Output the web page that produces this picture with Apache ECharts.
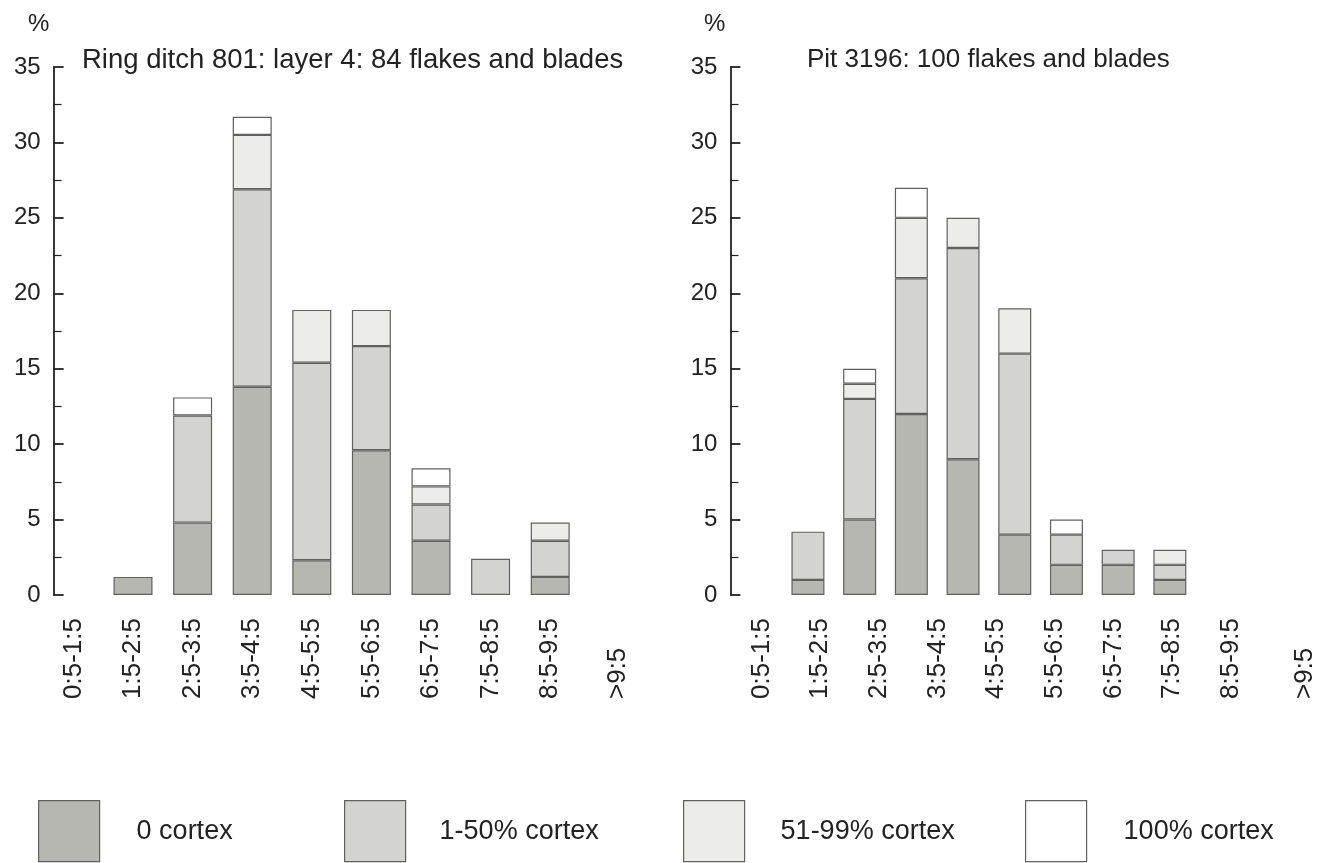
<!DOCTYPE html>
<html><head><meta charset="utf-8">
<script src="https://cdn.jsdelivr.net/npm/echarts@6/dist/echarts.min.js"></script>
<style>html,body{margin:0;padding:0;background:#fff}#c{width:1319px;height:863px}</style>
</head><body><div id="c"></div>
<script>
const categories = ['0:5-1:5','1:5-2:5','2:5-3:5','3:5-4:5','4:5-5:5','5:5-6:5','6:5-7:5','7:5-8:5','8:5-9:5','>9:5'];
const seriesNames = ['0 cortex','1-50% cortex','51-99% cortex','100% cortex'];
const yTicks = [0,5,10,15,20,25,30,35];
// Ring ditch 801, layer 4 (% per class, stacked segments)
const ringNone   = [0, 1.2, 4.8, 13.8, 2.3, 9.6, 3.6, 0,   1.2, 0];
const ringLow    = [0, 0,   7.1, 13.1, 13.1, 6.9, 2.4, 2.4, 2.4, 0];
const ringHigh   = [0, 0,   0,   3.6,  3.5,  2.4, 1.2, 0,   1.2, 0];
const ringFull   = [0, 0,   1.2, 1.2,  0,    0,   1.2, 0,   0,   0];
// Pit 3196
const pitNone    = [0, 1,   5,  12, 9,  4,  2, 2, 1, 0];
const pitLow     = [0, 3.2, 8,  9,  14, 12, 2, 1, 1, 0];
const pitHigh    = [0, 0,   1,  4,  2,  3,  0, 0, 1, 0];
const pitFull    = [0, 0,   1,  2,  0,  0,  1, 0, 0, 0];

const FONT = "'Liberation Sans', Arial, Helvetica, sans-serif";
const TXT = '#222';
const fills = ['#b6b7b1', '#d3d4cf', '#ecece8', '#ffffff'];
const border = '#606060';

function yAxis(grid, offset) {
  return {
    type: 'value', gridIndex: grid, min: 0, max: 35, interval: 5, offset: offset,
    axisLine: {show: true, lineStyle: {color: TXT, width: 1.8}},
    axisTick: {show: true, inside: true, length: 10, lineStyle: {color: TXT, width: 1.8}},
    minorTick: {show: true, splitNumber: 2, length: 8, lineStyle: {color: TXT, width: 1.2}},
    splitLine: {show: false},
    axisLabel: {fontSize: 24, color: TXT, fontFamily: FONT, margin: 13,
      formatter: v => yTicks.includes(v) ? String(v) : ''}
  };
}
function xAxis(grid, showLabels, lastShift) {
  return {
    type: 'category', gridIndex: grid, data: categories, boundaryGap: true,
    axisLine: {show: false}, axisTick: {show: false}, splitLine: {show: false},
    axisLabel: {show: showLabels, interval: 0, rotate: 90, align: 'left', verticalAlign: 'middle',
      margin: 104, fontSize: 26, color: TXT, fontFamily: FONT,
      formatter: (v, i) => i === categories.length - 1 ? '{g|' + v + '}' : v,
      rich: {g: {fontSize: 26, color: TXT, fontFamily: FONT, padding: [lastShift, 0, 0, 0]}}}
  };
}
function bars(names, datas, xi, yi, stack, w) {
  return datas.map((d, i) => ({
    name: names[i], type: 'bar', stack: stack, xAxisIndex: xi, yAxisIndex: yi,
    data: d.map(v => v === 0 ? '-' : v), barWidth: w,
    itemStyle: {color: fills[i], borderColor: border, borderWidth: 1.2},
    emphasis: {disabled: true}
  }));
}
function legend(name, left, pad) {
  return {
    data: [name], left: left, top: 800, padding: 0, orient: 'horizontal', icon: 'rect',
    itemWidth: 61, itemHeight: 61, selectedMode: false,
    itemStyle: {borderColor: border, borderWidth: 1.2},
    textStyle: {fontSize: 27, color: TXT, fontFamily: FONT, padding: [0, 0, 0, pad]}
  };
}

const chart = echarts.init(document.getElementById('c'), null, {renderer: 'canvas'});
chart.setOption({
  animation: false,
  backgroundColor: '#fff',
  title: [
    {text: 'Ring ditch 801: layer 4: 84 flakes and blades', left: 82, top: 46, padding: 0,
      textStyle: {fontSize: 27.5, fontWeight: 'normal', color: TXT, fontFamily: FONT}},
    {text: 'Pit 3196: 100 flakes and blades', left: 807, top: 47, padding: 0,
      textStyle: {fontSize: 26, fontWeight: 'normal', color: TXT, fontFamily: FONT}},
    {text: '%', left: 28, top: 12, padding: 0, textStyle: {fontSize: 24, fontWeight: 'normal', color: TXT, fontFamily: FONT}},
    {text: '%', left: 704, top: 12, padding: 0, textStyle: {fontSize: 24, fontWeight: 'normal', color: TXT, fontFamily: FONT}}
  ],
  grid: [
    {left: 43.6, top: 67, width: 596, height: 528},
    {left: 730.4, top: 67, width: 517, height: 528},
    {left: 732, top: 67, width: 602, height: 528}
  ],
  xAxis: [xAxis(0, true, 16), xAxis(1, false, 0), xAxis(2, true, 30)],
  yAxis: [yAxis(0, -10), yAxis(1, 0), Object.assign(yAxis(2, 0), {show: false})],
  legend: [
    legend(seriesNames[0], 38, 32),
    legend(seriesNames[1], 344, 29),
    legend(seriesNames[2], 683, 31),
    legend(seriesNames[3], 1025, 32)
  ],
  series: [].concat(
    bars(seriesNames, [ringNone, ringLow, ringHigh, ringFull], 0, 0, 'ring', 39),
    bars(seriesNames, [pitNone, pitLow, pitHigh, pitFull], 1, 1, 'pit', 33)
  )
});
</script></body></html>
